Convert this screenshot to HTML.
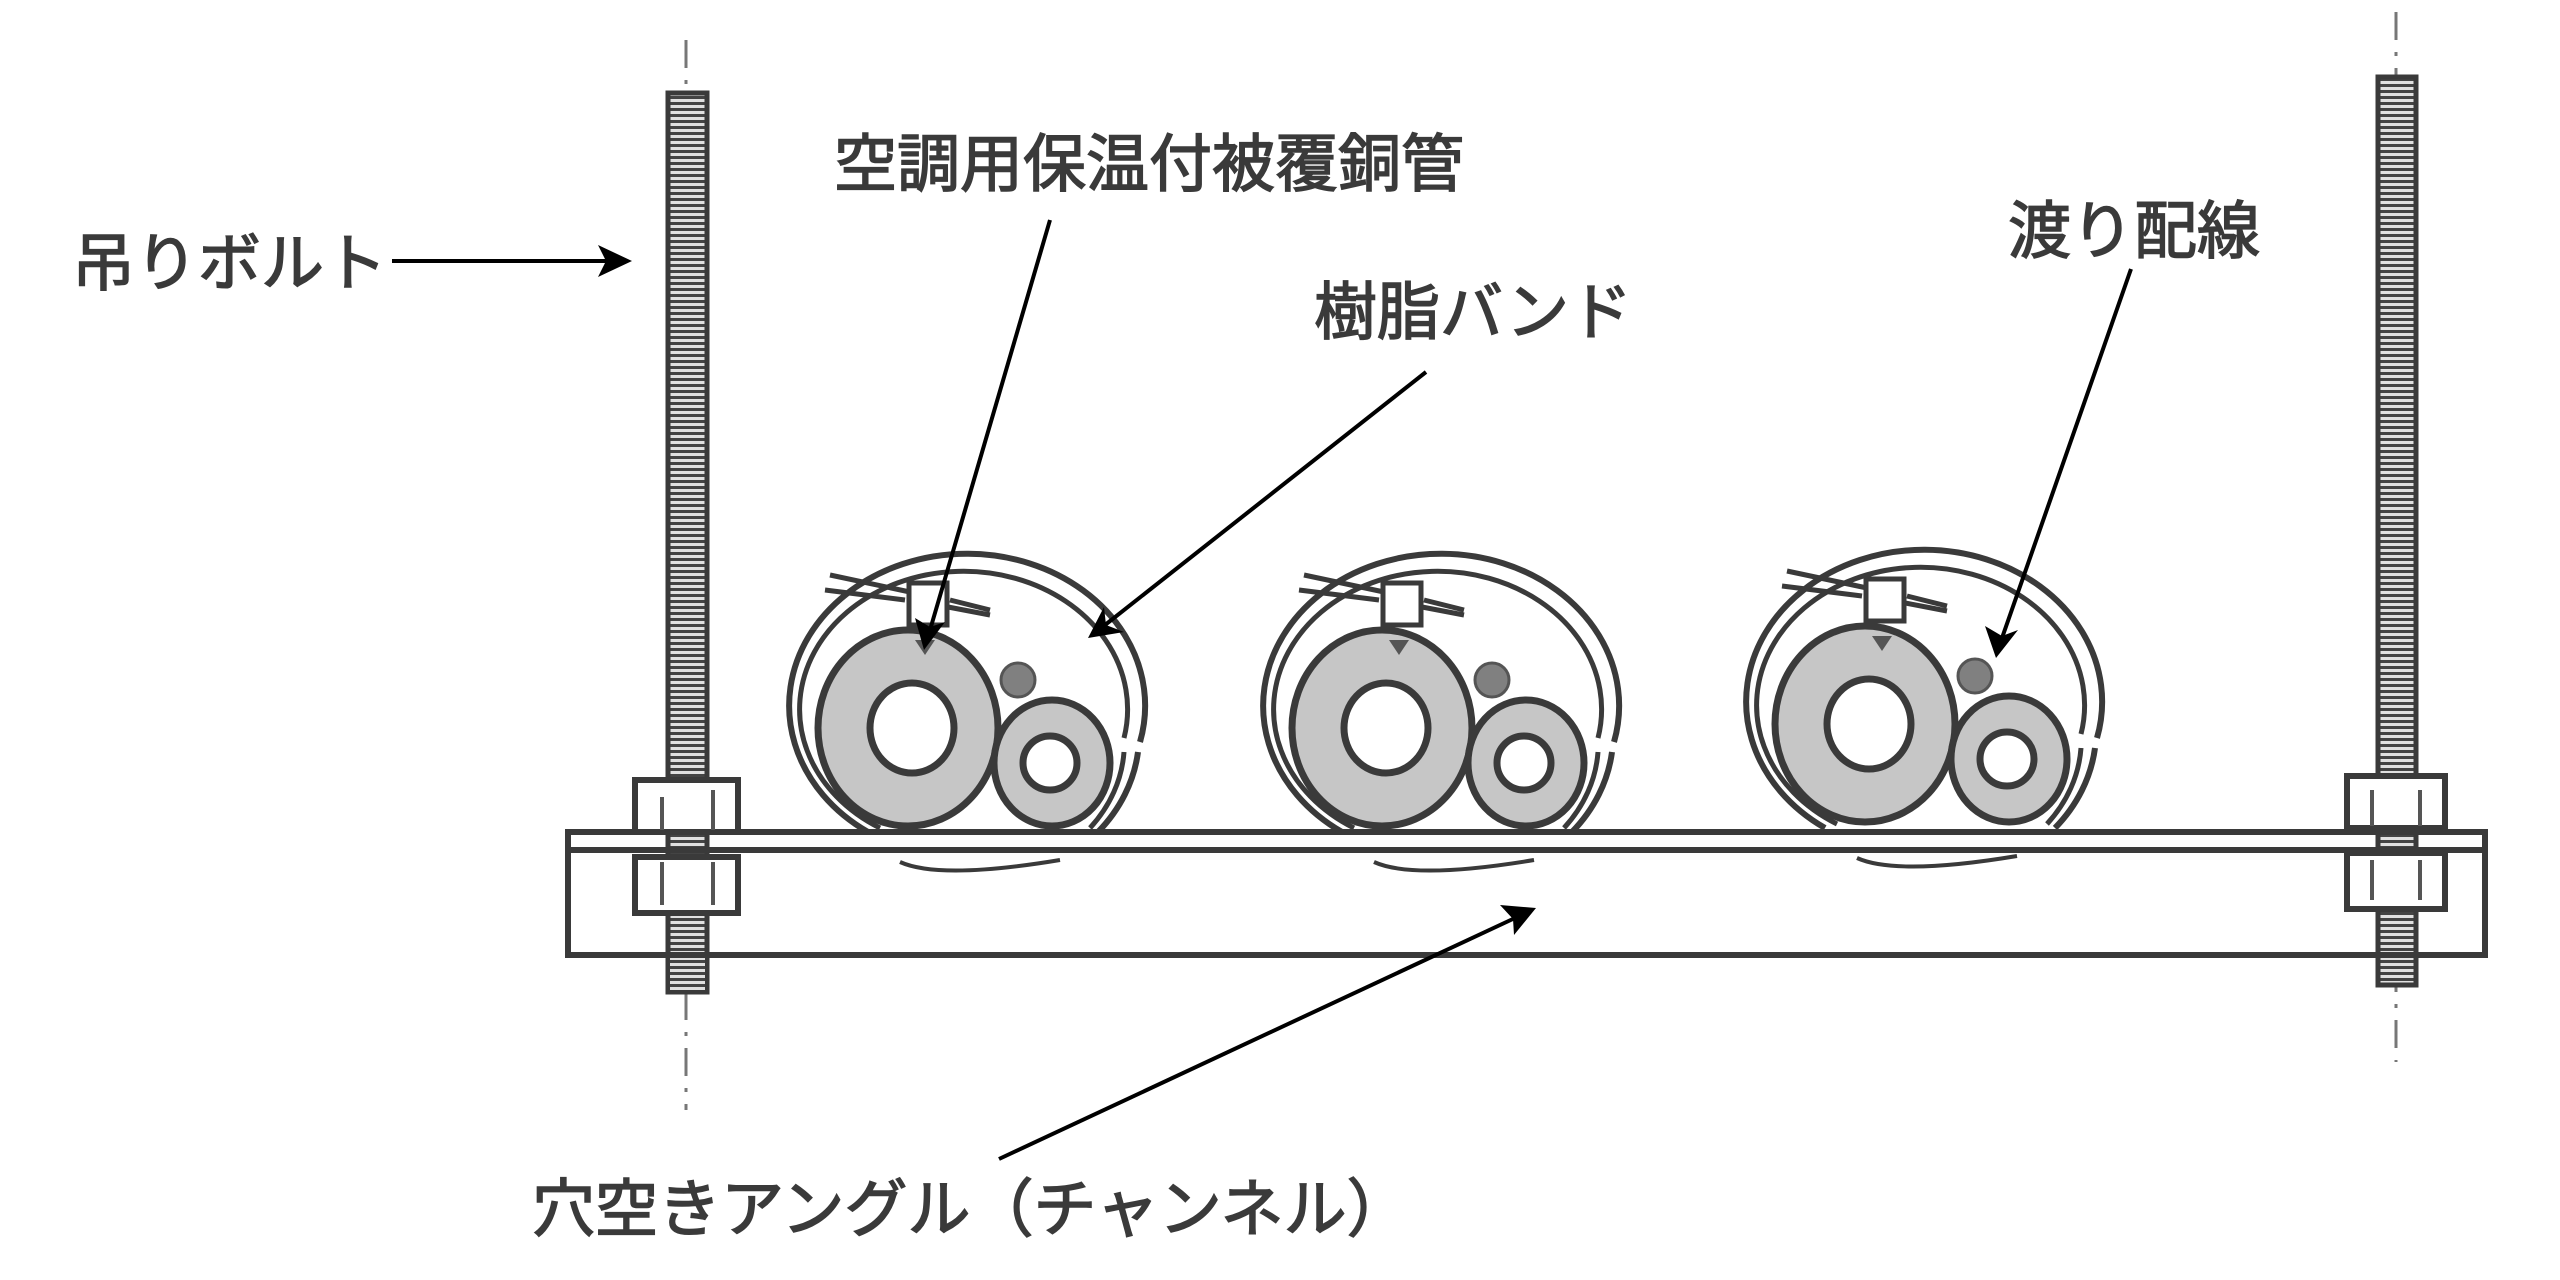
<!DOCTYPE html>
<html><head><meta charset="utf-8"><style>
html,body{margin:0;padding:0;background:#fff;}
svg{display:block}
text{font-family:"Liberation Sans","Noto Sans CJK JP",sans-serif;fill:#3a3a3a;font-size:63px;stroke:#3a3a3a;stroke-width:1.5px;}
</style></head><body>
<svg width="2560" height="1280" viewBox="0 0 2560 1280" xmlns="http://www.w3.org/2000/svg">
<defs>
<pattern id="thr" width="12" height="6" patternUnits="userSpaceOnUse">
<rect width="12" height="6" fill="#e0e0e0"/>
<rect y="0" width="12" height="3" fill="#444"/>
</pattern>
<g id="grp">
  <path d="M868,832 A178,152 0 1 1 1140,742" fill="none" stroke="#3a3a3a" stroke-width="6"/>
  <path d="M1138,752 A178,152 0 0 1 1098,832" fill="none" stroke="#3a3a3a" stroke-width="6"/>
  <path d="M880,828 A164,138 0 1 1 1124,738" fill="none" stroke="#3a3a3a" stroke-width="5"/>
  <path d="M1124,752 A164,138 0 0 1 1090,828" fill="none" stroke="#3a3a3a" stroke-width="5"/>
  <path d="M830,575 L910,592 M825,590 L905,600 M950,600 L990,610 M948,607 L990,615" stroke="#3a3a3a" stroke-width="5" fill="none"/>
  <rect x="909" y="583" width="38" height="42" fill="#fff" stroke="#3a3a3a" stroke-width="5"/>
  <ellipse cx="908" cy="728" rx="90" ry="98" fill="#c6c6c6" stroke="#3a3a3a" stroke-width="7"/>
  <ellipse cx="912" cy="728" rx="42" ry="45" fill="#fff" stroke="#3a3a3a" stroke-width="7"/>
  <path d="M915,640 L925,655 L935,640" fill="#555"/>
  <ellipse cx="1052" cy="763" rx="58" ry="63" fill="#c6c6c6" stroke="#3a3a3a" stroke-width="7"/>
  <circle cx="1050" cy="763" r="27" fill="#fff" stroke="#3a3a3a" stroke-width="7"/>
  <circle cx="1018" cy="680" r="17" fill="#808080" stroke="#555" stroke-width="3"/>
  <path d="M900,862 Q940,880 1060,860" fill="none" stroke="#3a3a3a" stroke-width="4"/>
</g>
</defs>

<line x1="686" y1="40" x2="686" y2="1110" stroke="#777" stroke-width="3" stroke-dasharray="28,12,4,12"/>
<line x1="2396" y1="12" x2="2396" y2="1062" stroke="#777" stroke-width="3" stroke-dasharray="28,12,4,12"/>

<rect x="668" y="93" width="39" height="899" fill="url(#thr)" stroke="#3a3a3a" stroke-width="5"/>
<rect x="2378" y="77" width="38" height="908" fill="url(#thr)" stroke="#3a3a3a" stroke-width="5"/>

<rect x="568" y="832" width="1917" height="123" fill="none" stroke="#3a3a3a" stroke-width="6"/>
<line x1="568" y1="850" x2="2485" y2="850" stroke="#3a3a3a" stroke-width="6"/>
<rect x="670" y="958" width="35" height="32" fill="url(#thr)"/>

<rect x="635" y="780" width="103" height="52" fill="#fff" stroke="#3a3a3a" stroke-width="6"/>
<rect x="635" y="857" width="103" height="56" fill="#fff" stroke="#3a3a3a" stroke-width="6"/>
<path d="M662,797 V830 M713,790 V830 M662,862 V905 M713,862 V905" stroke="#555" stroke-width="4"/>
<rect x="2347" y="776" width="98" height="52" fill="#fff" stroke="#3a3a3a" stroke-width="6"/>
<rect x="2347" y="853" width="98" height="56" fill="#fff" stroke="#3a3a3a" stroke-width="6"/>
<path d="M2372,790 V826 M2420,790 V826 M2372,860 V900 M2420,860 V900" stroke="#555" stroke-width="4"/>

<use href="#grp"/>
<use href="#grp" transform="translate(474,0)"/>
<use href="#grp" transform="translate(957,-4)"/>

<text x="72" y="285">吊りボルト</text>
<text x="834" y="186">空調用保温付被覆銅管</text>
<text x="1314" y="334">樹脂バンド</text>
<text x="2008" y="253">渡り配線</text>
<text x="532" y="1231">穴空きアングル（チャンネル）</text>

<g stroke="#000" stroke-width="4" fill="#000">
<line x1="392" y1="261" x2="610" y2="261"/>
<polygon points="632,261 598,245 606,261 598,277" stroke="none"/>
<line x1="1050" y1="220" x2="930" y2="630"/>
<polygon points="924,650 915,618 930,627 945,622" stroke="none"/>
<line x1="1426" y1="372" x2="1105" y2="625"/>
<polygon points="1088,638 1104,607 1106,625 1124,632" stroke="none"/>
<line x1="2131" y1="269" x2="2002" y2="638"/>
<polygon points="1996,658 1985,626 2002,636 2018,630" stroke="none"/>
<line x1="999" y1="1159" x2="1515" y2="918"/>
<polygon points="1536,908 1514,935 1513,919 1500,905" stroke="none"/>
</g>
</svg>
</body></html>
